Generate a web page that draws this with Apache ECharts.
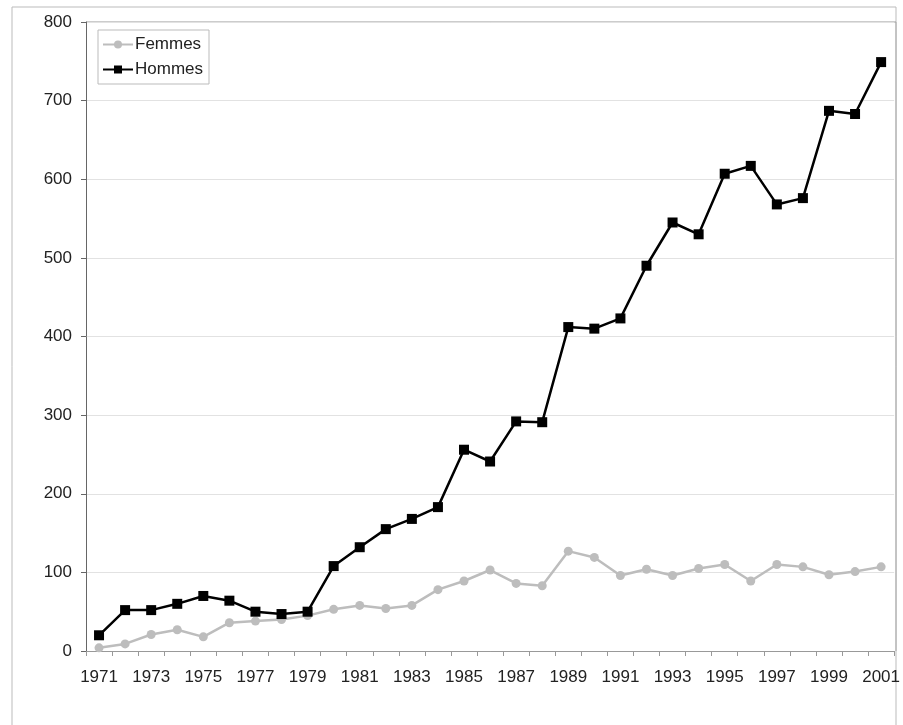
<!DOCTYPE html>
<html><head><meta charset="utf-8">
<script src="https://cdn.jsdelivr.net/npm/echarts@6/dist/echarts.min.js"></script>
<style>html,body{margin:0;padding:0;background:#fff}#c{width:903px;height:725px}</style>
</head><body><div id="c"></div>
<script>
const years = ['1971','1972','1973','1974','1975','1976','1977','1978','1979','1980','1981','1982','1983','1984','1985','1986','1987','1988','1989','1990','1991','1992','1993','1994','1995','1996','1997','1998','1999','2000','2001'];
const femmes = [4,9,21,27,18,36,38,40,45,53,58,54,58,78,89,103,86,83,127,119,96,104,96,105,110,89,110,107,97,101,107];
const hommes = [20,52,52,60,70,64,50,47,50,108,132,155,168,183,256,241,292,291,412,410,423,490,545,530,607,617,568,576,687,683,749];
const yTicks = {min:0, max:800, interval:100};

const chart = echarts.init(document.getElementById('c'));
chart.setOption({
  animation:false,
  textStyle:{fontFamily:'Liberation Sans, Arial, sans-serif'},
  graphic:[
    {type:'rect', shape:{x:12,y:7,width:884,height:730}, style:{fill:'none',stroke:'#bbb',lineWidth:1}, z:-1},
    {type:'line', shape:{x1:86,y1:22,x2:896,y2:22}, style:{stroke:'#999',lineWidth:1}},
    {type:'line', shape:{x1:896,y1:22,x2:896,y2:651}, style:{stroke:'#aaa',lineWidth:1}}
  ],
  grid:{left:86, top:22, width:810, height:629, containLabel:false},
  legend:{
    orient:'vertical', left:98, top:30, padding:[6,6,6,4],
    borderColor:'#bbb', borderWidth:1, itemGap:8,
    itemWidth:30, itemHeight:10,
    textStyle:{fontSize:17, color:'#222', fontFamily:'Liberation Sans, Arial, sans-serif', padding:[0,0,0,-3]},
    data:['Femmes','Hommes']
  },
  xAxis:{
    type:'category', data:years, boundaryGap:true,
    axisLine:{lineStyle:{color:'#999',width:1}},
    axisTick:{show:true, inside:false, length:5, alignWithLabel:false, interval:0, lineStyle:{color:'#999'}},
    axisLabel:{interval:1, color:'#222', fontSize:17, margin:18},
    splitLine:{show:false}
  },
  yAxis:{
    type:'value', min:yTicks.min, max:yTicks.max, interval:yTicks.interval,
    axisLine:{show:true, lineStyle:{color:'#666',width:1}},
    axisTick:{show:true, length:5, lineStyle:{color:'#666'}},
    axisLabel:{color:'#222', fontSize:17, margin:14},
    splitLine:{lineStyle:{color:'#e2e2e2',width:1}}
  },
  series:[
    {name:'Femmes', type:'line', data:femmes, symbol:'circle', symbolSize:9,
     lineStyle:{color:'#bdbdbd', width:2.5}, itemStyle:{color:'#bdbdbd'}, z:2},
    {name:'Hommes', type:'line', data:hommes, symbol:'rect', symbolSize:10,
     lineStyle:{color:'#000', width:2.5}, itemStyle:{color:'#000'}, z:3}
  ]
});
</script></body></html>
